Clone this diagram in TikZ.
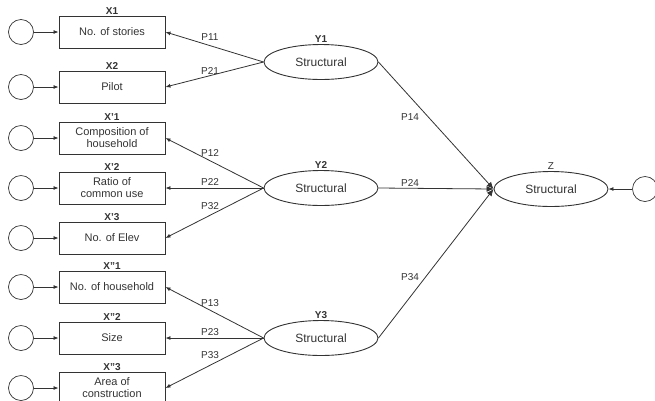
\documentclass[tikz,border=0pt]{standalone}
\usepackage{fontspec}
\setmainfont{Liberation Sans}
\usetikzlibrary{arrows.meta,shapes.geometric}
\definecolor{ink}{HTML}{333333}
\begin{document}
\begin{tikzpicture}[x=1pt,y=-1pt,
  every node/.style={text=ink},
  obs/.style={draw=ink,line width=0.9pt,minimum width=106pt,minimum height=32pt,inner sep=1pt,align=center,font=\fontsize{11}{12}\selectfont},
  err/.style={draw=ink,line width=0.7pt,circle,minimum size=25pt,inner sep=0pt},
  lat/.style={draw=ink,line width=0.9pt,ellipse,minimum width=114pt,minimum height=35pt,inner sep=0pt,font=\fontsize{12}{14}\selectfont},
  ttl/.style={font=\bfseries\fontsize{10}{11}\selectfont,inner sep=1pt,anchor=south},
  plab/.style={font=\fontsize{10}{11}\selectfont,inner sep=0pt},
  arr/.style={draw=ink,line width=0.8pt,-{Latex[length=5pt,width=4pt]}},
  zarr/.style={draw=ink,line width=0.8pt,-{Latex[length=7pt,width=6pt]}},
]
\useasboundingbox (0,0) rectangle (655,400);
% observed boxes
\node[obs] (x1) at (112,32) {No. of stories};
\node[obs] (x2) at (112,87) {Pilot};
\node[obs] (xa1) at (112,138) {Composition of\\household};
\node[obs] (xa2) at (112,188) {Ratio of\\common use};
\node[obs] (xa3) at (112,238) {No. of Elev};
\node[obs] (xb1) at (112,287) {No. of household};
\node[obs] (xb2) at (112,338) {Size};
\node[obs] (xb3) at (112,388) {Area of\\construction};
% titles
\node[ttl] (tx1) at (x1.north) {X1};
\node[ttl] (tx2) at (x2.north) {X2};
\node[ttl] (txa1) at (xa1.north) {X'1};
\node[ttl] (txa2) at (xa2.north) {X'2};
\node[ttl] (txa3) at (xa3.north) {X'3};
\node[ttl] (txb1) at (xb1.north) {X"1};
\node[ttl] (txb2) at (xb2.north) {X"2};
\node[ttl] (txb3) at (xb3.north) {X"3};
% error circles
\foreach \n/\y in {x1/32,x2/87,xa1/138,xa2/188,xa3/238,xb1/287,xb2/338,xb3/388}{
  \node[err] (e\n) at (21,\y) {};
  \draw[arr] (e\n) -- (\n);
}
% latent
\node[lat] (y1) at (321,62) {Structural};
\node[lat] (y2) at (321,188) {Structural};
\node[lat] (y3) at (321,338) {Structural};
\node[lat] (z) at (551,189) {Structural};
\node[ttl] (ty1) at (y1.north) {Y1};
\node[ttl] (ty2) at (y2.north) {Y2};
\node[ttl] (ty3) at (y3.north) {Y3};
\node[ttl,font=\fontsize{10}{11}\selectfont] (tz) at (z.north) {Z};
\node[err] (ez) at (645,189) {};
\draw[arr] (ez) -- (z);
% paths
\draw[arr] (y1.west) -- (x1.east);
\draw[arr] (y1.west) -- (x2.east);
\draw[arr] (y2.west) -- (xa1.east);
\draw[arr] (y2.west) -- (xa2.east);
\draw[arr] (y2.west) -- (xa3.east);
\draw[arr] (y3.west) -- (xb1.east);
\draw[arr] (y3.west) -- (xb2.east);
\draw[arr] (y3.west) -- (xb3.east);
\draw[zarr] (y1.east) -- (z.west);
\draw[zarr] (y2.east) -- (z.west);
\draw[zarr] (y3.east) -- (z.west);
% path labels
\node[plab] (p11) at (210,37) {P11};
\node[plab] (p21) at (210,71) {P21};
\node[plab] (p12) at (210,153) {P12};
\node[plab] (p22) at (210,182) {P22};
\node[plab] (p32) at (210,206) {P32};
\node[plab] (p13) at (210,303) {P13};
\node[plab] (p23) at (210,332) {P23};
\node[plab] (p33) at (210,355) {P33};
\node[plab] (p14) at (410,117) {P14};
\node[plab] (p24) at (410,183) {P24};
\node[plab] (p34) at (410,277) {P34};
\end{tikzpicture}
\end{document}
